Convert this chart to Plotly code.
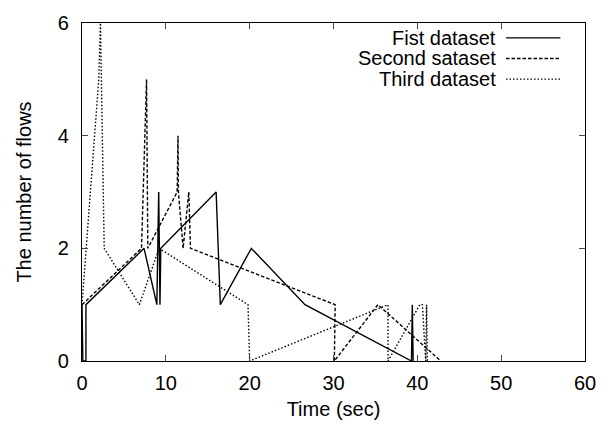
import plotly.graph_objects as go

# Data
first_t = [0, 0.1, 0.47, 0.47, 7.4, 8.93, 9.15, 9.3, 9.4, 16.0, 16.5, 20.2, 26.6, 39.3, 39.4, 39.5]
first_v = [1, 0, 0, 1, 2, 1, 3, 1, 2, 3, 1, 2, 1, 0, 1, 0]

second_t = [0, 7.1, 7.7, 7.85, 11.35, 11.45, 11.5, 12.06, 12.74, 12.94, 30.2, 30.1, 35.3, 42.8]
second_v = [1, 2, 5, 2, 3, 4, 3, 2, 3, 2, 1, 0, 1, 0]

third_t = [0, 2.0, 2.2, 2.65, 6.84, 9.2, 19.8, 20.0, 36.5, 36.5, 40.3, 40.6, 41.0, 41.1, 41.2]
third_v = [1, 5, 6, 2, 1, 2, 1, 0, 1, 0, 1, 1, 0, 1, 0]

names = ["Fist dataset", "Second sataset", "Third dataset"]
dashes = ["solid", "3.5px,2px", "1.5px,2px"]

x_ticks = [0, 10, 20, 30, 40, 50, 60]
y_ticks = [0, 2, 4, 6]

FONT = "Liberation Sans, Arial, Helvetica, sans-serif"
FS = 20

fig = go.Figure()
series = [(first_t, first_v), (second_t, second_v), (third_t, third_v)]
for (t, v), name, dash in zip(series, names, dashes):
    fig.add_trace(go.Scatter(x=t, y=v, mode="lines", name=name,
                             line=dict(color="black", width=1.4, dash=dash),
                             showlegend=False))

# gnuplot-style legend: text right-aligned, sample line to its right
leg_y = [0.956, 0.895, 0.834]
for name, dash, yy in zip(names, dashes, leg_y):
    fig.add_annotation(x=0.827, y=yy, xref="paper", yref="paper", text=name,
                       showarrow=False, xanchor="right", yanchor="middle",
                       font=dict(family=FONT, size=FS, color="black"))
    fig.add_shape(type="line", xref="paper", yref="paper", x0=0.843, x1=0.951,
                  y0=yy, y1=yy, line=dict(color="black", width=1.4, dash=dash))

fig.update_layout(
    width=608, height=430,
    margin=dict(l=82, r=17, t=17, b=69),
    paper_bgcolor="white", plot_bgcolor="white",
    font=dict(family=FONT, size=FS, color="black"),
    xaxis=dict(range=[0, 60], tickvals=x_ticks, ticks="inside", ticklen=6,
               showline=True, linecolor="black", linewidth=1.4, mirror="allticks",
               showgrid=False, zeroline=False, ticklabelstandoff=4,
               tickfont=dict(family=FONT, size=FS),
               title=dict(text="Time (sec)", standoff=8,
                          font=dict(family=FONT, size=FS))),
    yaxis=dict(range=[0, 6], tickvals=y_ticks, ticks="inside", ticklen=6,
               showline=True, linecolor="black", linewidth=1.4, mirror="allticks",
               showgrid=False, zeroline=False, ticklabelstandoff=8,
               tickfont=dict(family=FONT, size=FS),
               title=dict(text="The number of flows", standoff=20,
                          font=dict(family=FONT, size=FS))),
)

fig.write_html("out.html")
